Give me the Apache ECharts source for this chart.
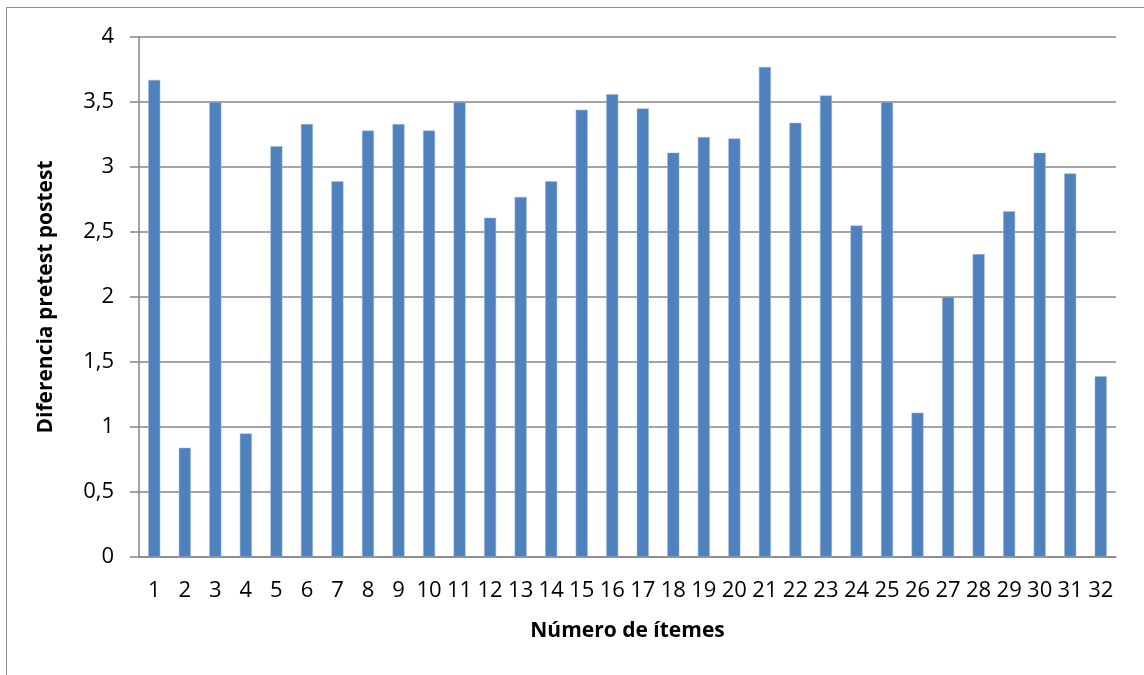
<!DOCTYPE html>
<html>
<head>
<meta charset="utf-8">
<script src="https://cdn.jsdelivr.net/npm/echarts@6/dist/echarts.min.js"></script>
<style>
  html, body { margin: 0; padding: 0; background: #fff; }
  #chart { width: 1144px; height: 675px; }
</style>
</head>
<body>
<div id="chart"></div>
<script>
const items = Array.from({ length: 32 }, (_, i) => String(i + 1))
const diferencia = [
  3.67, 0.84, 3.5, 0.95, 3.16, 3.33, 2.89, 3.28, 3.33, 3.28,
  3.5, 2.61, 2.77, 2.89, 3.44, 3.56, 3.45, 3.11, 3.23, 3.22,
  3.77, 3.34, 3.55, 2.55, 3.5, 1.11, 2.0, 2.33, 2.66, 3.11,
  2.95, 1.39
]
const yTicks = [0, 0.5, 1, 1.5, 2, 2.5, 3, 3.5, 4]

const chart = echarts.init(document.getElementById('chart'))
const font = "'Open Sans', 'Liberation Sans', sans-serif"

chart.setOption({
  animation: false,
  textStyle: { fontFamily: font },
  graphic: [{
    type: 'rect',
    shape: { x: 6.5, y: 7.5, width: 1200, height: 700 },
    style: { fill: 'none', stroke: '#8c8c8c', lineWidth: 1 }
  }],
  grid: { left: 139, right: 28, top: 37, bottom: 118 },
  xAxis: {
    type: 'category',
    data: items,
    name: 'Número de ítemes',
    nameLocation: 'middle',
    nameGap: 64,
    nameTextStyle: { fontSize: 21, fontWeight: 'bold', color: '#000', fontFamily: font },
    axisLine: { lineStyle: { color: '#868686', width: 1.5 } },
    axisTick: { show: false },
    axisLabel: { color: '#000', fontSize: 22, margin: 23, interval: 0, fontFamily: font }
  },
  yAxis: {
    type: 'value',
    min: 0,
    max: 4,
    interval: 0.5,
    name: 'Diferencia pretest postest',
    nameLocation: 'middle',
    nameGap: 82,
    nameTextStyle: { fontSize: 21, fontWeight: 'bold', color: '#000', fontFamily: font },
    axisLine: { show: true, lineStyle: { color: '#868686', width: 1.5 } },
    axisTick: { show: true, inside: false, length: 9, lineStyle: { color: '#868686', width: 1.5 } },
    axisLabel: {
      color: '#000', fontSize: 22, margin: 25, fontFamily: font,
      formatter: v => yTicks.includes(v) ? String(v).replace('.', ',') : ''
    },
    splitLine: { lineStyle: { color: '#868686', width: 1.5 } }
  },
  series: [{
    type: 'bar',
    data: diferencia,
    barWidth: 12,
    itemStyle: { color: '#4f81bd', borderColor: '#9db8db', borderWidth: 0.5 }
  }]
})
</script>
</body>
</html>
